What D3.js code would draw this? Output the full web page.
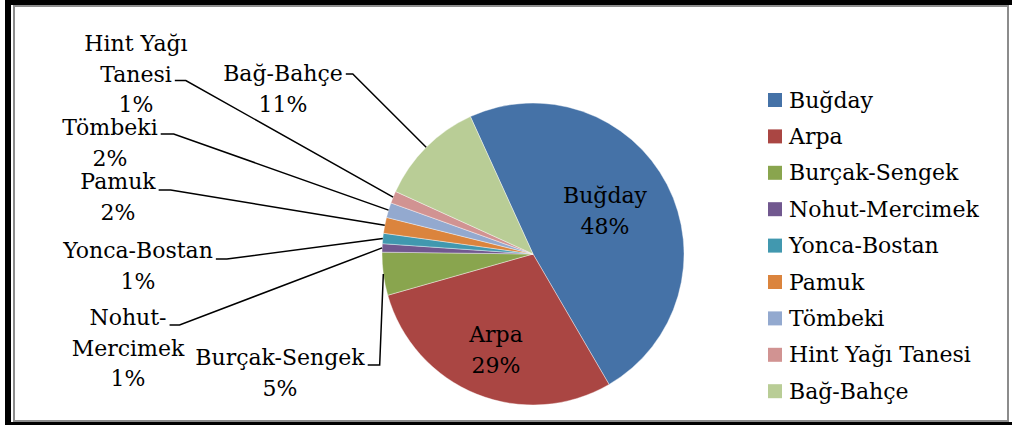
<!DOCTYPE html>
<html>
<head>
<meta charset="utf-8">
<script src="https://cdn.jsdelivr.net/npm/d3@7"></script>
<style>
  html, body { margin: 0; padding: 0; background: #fff; }
  svg { display: block; }
  text { font-family: "DejaVu Serif", "Liberation Serif", serif; fill: #000; }
</style>
</head>
<body>
<svg id="chart" width="1012" height="425"></svg>
<script>
// Crop shares (percent of total area)
const categories = ["Buğday", "Arpa", "Burçak-Sengek", "Nohut-Mercimek", "Yonca-Bostan",
                    "Pamuk", "Tömbeki", "Hint Yağı Tanesi", "Bağ-Bahçe"];
const shares = [48.4, 29.0, 4.6, 0.9, 1.1, 1.7, 1.6, 1.3, 11.4];
const colors = ["#4572A7", "#AA4643", "#89A54E", "#71588F", "#4198AF",
                "#DB843D", "#93A9CF", "#D19392", "#B9CD96"];

// Label text lines (category part) as shown beside each slice
const labelLines = [["Buğday"], ["Arpa"], ["Burçak-Sengek"], ["Nohut-", "Mercimek"], ["Yonca-Bostan"],
                    ["Pamuk"], ["Tömbeki"], ["Hint Yağı", "Tanesi"], ["Bağ-Bahçe"]];

// Label placement: centre x, first baseline, whether a leader line is drawn,
// and which text line the leader leaves from
const labelLayout = [
  { cx: 605, y: 203, leader: false },
  { cx: 496, y: 342, leader: false },
  { cx: 280, y: 365, leader: true, from: 0, dy: 0, elbow: 12 },
  { cx: 128, y: 325, leader: true, from: 0, dy: 0, elbow: 10 },
  { cx: 138, y: 258, leader: true, from: 0, dy: 1, elbow: 11 },
  { cx: 118, y: 189, leader: true, from: 0, dy: 1, elbow: 12 },
  { cx: 110, y: 135, leader: true, from: 0, dy: -1, elbow: 13 },
  { cx: 136, y: 51,  leader: true, from: 1, dy: -1, elbow: 11 },
  { cx: 283, y: 81,  leader: true, from: 0, dy: -7, elbow: 7 }
];

const W = 1012, H = 425;
const svg = d3.select("#chart");

// Frame: heavy black edge on left/top/bottom, thin grey inner border
svg.append("rect").attr("x", 5).attr("y", 0).attr("width", W - 5).attr("height", H).attr("fill", "#000");
svg.append("rect").attr("x", 11).attr("y", 5).attr("width", W - 11).attr("height", 417).attr("fill", "#fff");
svg.append("rect").attr("x", 14).attr("y", 6).attr("width", 994).attr("height", 415)
   .attr("fill", "none").attr("stroke", "#8c8c8c").attr("stroke-width", 2);

// Pie
const cx = 533, cy = 254, R = 151;
const data = categories.map((c, i) => ({ name: c, value: shares[i], color: colors[i], i }));
const startDeg = -24.5;
const pie = d3.pie().value(d => d.value).sort(null)
  .startAngle(startDeg * Math.PI / 180)
  .endAngle((startDeg + 360) * Math.PI / 180);
const arcs = pie(data);
const arc = d3.arc().innerRadius(0).outerRadius(R);

const g = svg.append("g").attr("transform", `translate(${cx},${cy})`);
g.selectAll("path.slice").data(arcs).join("path")
  .attr("class", "slice")
  .attr("d", arc)
  .attr("fill", d => d.data.color)
  .attr("stroke", "#fff").attr("stroke-width", 0.4);

const pct = d3.format(".0f");
const lineH = 30.5;

// Data labels
arcs.forEach((a, i) => {
  const L = labelLayout[i];
  const lines = labelLines[i].concat([pct(a.data.value) + "%"]);
  const t = svg.append("text").attr("text-anchor", "middle").attr("font-size", 22);
  lines.forEach((s, k) => {
    t.append("tspan").attr("x", L.cx).attr("y", L.y + k * lineH).text(s);
  });
  if (L.leader) {
    const span = t.selectAll("tspan").nodes()[L.from];
    const w = span.getComputedTextLength();
    const x0 = L.cx + w / 2 + 3;
    const yl = L.y + L.from * lineH + L.dy;
    const mid = (a.startAngle + a.endAngle) / 2;
    const px = cx + R * Math.sin(mid), py = cy - R * Math.cos(mid);
    svg.append("path")
      .attr("d", d3.line()([[x0, yl], [x0 + L.elbow, yl], [px, py]]))
      .attr("fill", "none").attr("stroke", "#000").attr("stroke-width", 1.5);
  }
});

// Legend
const legend = svg.append("g").attr("transform", "translate(768,100)");
const rowH = 36.4;
const rows = legend.selectAll("g").data(data).join("g")
  .attr("transform", (d, i) => `translate(0,${i * rowH})`);
rows.append("rect").attr("x", 0).attr("y", -7).attr("width", 14).attr("height", 14)
  .attr("fill", d => d.color);
rows.append("text").attr("x", 21).attr("y", 7.5).attr("font-size", 22).text(d => d.name);
</script>
</body>
</html>
